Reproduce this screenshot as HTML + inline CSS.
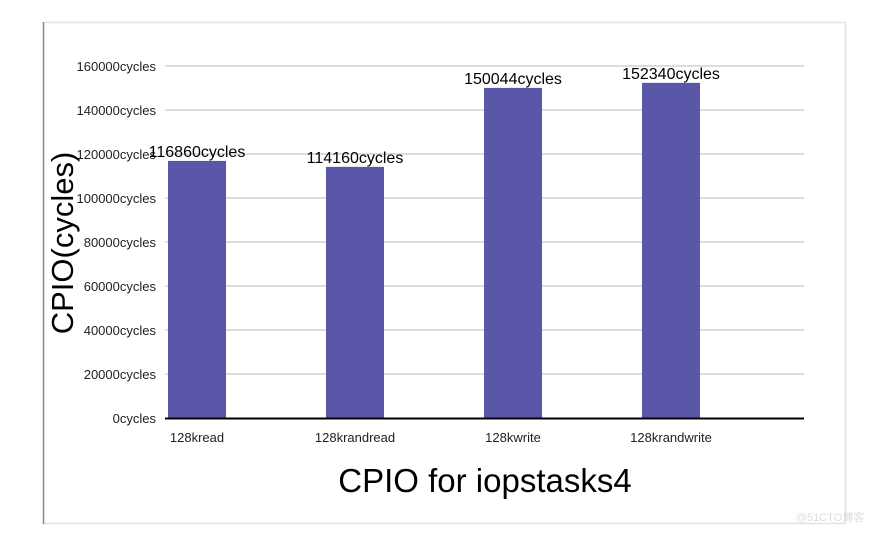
<!DOCTYPE html>
<html><head><meta charset="utf-8"><style>
body{margin:0;background:#fff;}
svg{display:block;font-family:"Liberation Sans",sans-serif;}
</style></head><body>
<svg id="chart" width="882" height="533" viewBox="0 0 882 533">
<rect x="43.5" y="22.5" width="802" height="501" fill="#fff" stroke="#e3e3e3" stroke-width="1.5"/>
<line x1="43.5" y1="22" x2="43.5" y2="524" stroke="#8c8c8c" stroke-width="1.5"/>
<g id="grid"></g><g id="bars"></g><g id="labels"></g>
<text transform="translate(73,243) rotate(-90)" text-anchor="middle" font-size="31" fill="#000">CPIO(cycles)</text>
<text x="485" y="492" text-anchor="middle" font-size="33" fill="#000">CPIO for iopstasks4</text>
<text x="830" y="521" text-anchor="middle" font-size="11" fill="#ddd">@51CTO博客</text>
</svg>
<script>
const categories=["128kread","128krandread","128kwrite","128krandwrite"];
const values=[116860,114160,150044,152340];
const yTicks=[0,20000,40000,60000,80000,100000,120000,140000,160000];
const NS="http://www.w3.org/2000/svg";
const y=v=>418-v*(352/160000);
const xc=i=>197+i*158;
function mk(tag,attrs,parent,text){const e=document.createElementNS(NS,tag);for(const k in attrs)e.setAttribute(k,attrs[k]);if(text!==undefined)e.textContent=text;parent.appendChild(e);return e;}
const grid=document.getElementById('grid'),bars=document.getElementById('bars'),labels=document.getElementById('labels');
yTicks.forEach(t=>{
  if(t>0){const g=mk('line',{x1:165,x2:804,y1:y(t),y2:y(t),stroke:'#d0d0d0','stroke-width':1.5},grid);
  
  }
  const l=mk('text',{x:156,y:y(t)+5,'text-anchor':'end','font-size':13,fill:'#222'},grid,t+'cycles');
  
  
});
values.forEach((v,i)=>{
  const r=mk('rect',{x:xc(i)-29,y:y(v),width:58,height:418-y(v),fill:'#5b57a8'},bars);
  
  
  const t=mk('text',{x:xc(i),y:y(v)-4,'text-anchor':'middle','font-size':16,fill:'#000'},labels,v+'cycles');
  
  
  const c=mk('text',{x:xc(i),y:442,'text-anchor':'middle','font-size':13,fill:'#222'},labels,categories[i]);
  
  
});
const ax=mk('line',{x1:165,x2:804,y1:418.5,y2:418.5,stroke:'#000','stroke-width':2},labels);


</script>
</body></html>
